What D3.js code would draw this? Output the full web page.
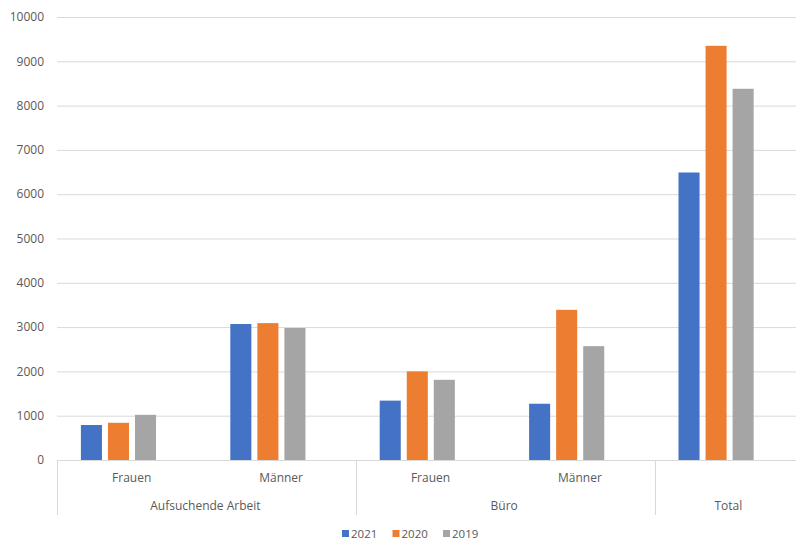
<!DOCTYPE html>
<html>
<head>
<meta charset="utf-8">
<script src="https://cdn.jsdelivr.net/npm/d3@7"></script>
<style>
  html, body { margin: 0; padding: 0; background: #fff; }
  svg { display: block; font-family: "Open Sans", sans-serif; }
</style>
</head>
<body>
<svg id="chart" width="796" height="541"></svg>
<script>
// ---- data ----
const groups = ["Aufsuchende Arbeit", "Aufsuchende Arbeit", "Büro", "Büro", "Total"];
const leaves = ["Frauen", "Männer", "Frauen", "Männer", ""];
const seriesNames = ["2021", "2020", "2019"];
const values2021 = [790, 3070, 1340, 1270, 6490];
const values2020 = [840, 3090, 2000, 3390, 9350];
const values2019 = [1020, 2980, 1810, 2570, 8380];
const yTicks = [0, 1000, 2000, 3000, 4000, 5000, 6000, 7000, 8000, 9000, 10000];

const colors = {"2021": "#4472C4", "2020": "#ED7D31", "2019": "#A5A5A5"};
const seriesValues = {"2021": values2021, "2020": values2020, "2019": values2019};

const svg = d3.select("#chart");
const mLeft = 57, mRight = 804, mTop = 17, mBottom = 460;

const ids = leaves.map((d, i) => i);
const x = d3.scaleBand().domain(ids).range([mLeft, mRight]).paddingInner(0).paddingOuter(0);
const bw = x.bandwidth();
const x1 = d3.scaleBand().domain(seriesNames).range([bw * 0.16, bw * 0.663]).paddingInner(0.222).paddingOuter(0);
const y = d3.scaleLinear().domain([0, 10000]).range([mBottom, mTop]);

const textColor = "#595959";
const gridColor = "#d9d9d9";

// gridlines
svg.append("g").selectAll("line").data(yTicks.filter(t => t > 0)).join("line")
  .attr("x1", mLeft).attr("x2", 796)
  .attr("y1", d => y(d) + 0.5).attr("y2", d => y(d) + 0.5)
  .attr("stroke", gridColor).attr("stroke-width", 1);

// y tick labels
svg.append("g").selectAll("text").data(yTicks).join("text")
  .attr("x", 44).attr("y", d => y(d))
  .attr("dy", "0.35em")
  .attr("text-anchor", "end")
  .attr("font-size", 12)
  .attr("fill", textColor)
  .text(d => d);

// bars
const barG = svg.append("g");
ids.forEach(i => {
  seriesNames.forEach(s => {
    const v = seriesValues[s][i];
    barG.append("rect")
      .attr("x", x(i) + x1(s))
      .attr("y", y(v))
      .attr("width", x1.bandwidth())
      .attr("height", y(0) - y(v))
      .attr("fill", colors[s]);
  });
});

// baseline
svg.append("line")
  .attr("x1", mLeft).attr("x2", 796)
  .attr("y1", mBottom + 0.5).attr("y2", mBottom + 0.5)
  .attr("stroke", gridColor).attr("stroke-width", 1);

// group boundaries
const groupNames = [];
groups.forEach((g, i) => {
  if (!groupNames.length || groupNames[groupNames.length - 1].name !== g) {
    groupNames.push({name: g, start: i, end: i});
  } else {
    groupNames[groupNames.length - 1].end = i;
  }
});
const boundaries = groupNames.map(g => x(g.start)).concat([x(groupNames[groupNames.length - 1].end) + bw]);
svg.append("g").selectAll("line").data(boundaries).join("line")
  .attr("x1", d => Math.round(d) + 0.5).attr("x2", d => Math.round(d) + 0.5)
  .attr("y1", mBottom).attr("y2", 515)
  .attr("stroke", gridColor).attr("stroke-width", 1);

// leaf labels
svg.append("g").selectAll("text").data(ids.filter(i => leaves[i])).join("text")
  .attr("x", i => x(i) + bw / 2)
  .attr("y", 478)
  .attr("dy", "0.35em")
  .attr("text-anchor", "middle")
  .attr("font-size", 12)
  .attr("fill", textColor)
  .text(i => leaves[i]);

// group labels
svg.append("g").selectAll("text").data(groupNames).join("text")
  .attr("x", g => (x(g.start) + x(g.end) + bw) / 2 - 1)
  .attr("y", 506)
  .attr("dy", "0.35em")
  .attr("text-anchor", "middle")
  .attr("font-size", 12)
  .attr("fill", textColor)
  .text(g => g.name);

// legend
const legendX = d3.scalePoint().domain(seriesNames).range([342, 443]);
const lg = svg.append("g");
seriesNames.forEach(s => {
  lg.append("rect")
    .attr("x", legendX(s)).attr("y", 530)
    .attr("width", 7).attr("height", 7)
    .attr("fill", colors[s]);
  lg.append("text")
    .attr("x", legendX(s) + 9).attr("y", 533.5)
    .attr("dy", "0.35em")
    .attr("font-size", 11.5)
    .attr("fill", textColor)
    .text(s);
});
</script>
</body>
</html>
